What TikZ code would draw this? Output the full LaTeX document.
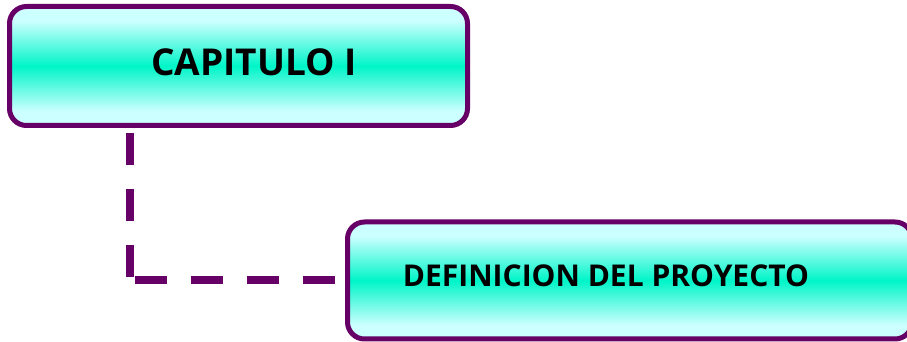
\documentclass[tikz,border=0pt]{standalone}
\usepackage{fontspec}
\setmainfont{Open Sans}
\usepackage{tikz}
\definecolor{edgepurple}{HTML}{660066}
\definecolor{topcyan}{HTML}{CCFFFF}
\definecolor{midaqua}{HTML}{00F5C8}
\pgfdeclareverticalshading{glassy}{100bp}{color(0bp)=(topcyan); color(31bp)=(topcyan); color(50bp)=(midaqua); color(69bp)=(topcyan); color(100bp)=(topcyan)}
\tikzstyle{chapbox}=[rectangle, rounded corners=17pt, draw=edgepurple, line width=5pt, shading=glassy]
\tikzstyle{chaptext}=[inner sep=0pt, font=\bfseries]
\tikzstyle{link}=[draw=edgepurple, line width=8pt, dash pattern=on 32pt off 24pt, dash phase=51pt]

\begin{document}
\begin{tikzpicture}[x=1pt, y=1pt]
		   \clip (0, 0) rectangle (907, 342);
		   \begin{scope}
			   \node (cap) at (238.5, 276)[chapbox, minimum width=458pt, minimum height=119pt] {};
			   \node (def) at (629.75, 61.5)[chapbox, minimum width=564.5pt, minimum height=117pt] {};
			   \node (captext) at (254, 280)[chaptext, font=\fontsize{37}{38}\bfseries\selectfont] {CAPITULO I};
			   \node (deftext) at (606, 66)[chaptext, font=\fontsize{30}{31}\bfseries\selectfont] {DEFINICION DEL PROYECTO};
			   \coordinate (turn) at ([xshift=122.5pt]cap.south west |- def.west);
		   \end{scope}
		   \begin{scope}
			   \path [link] (cap.south -| turn) -- (turn);
			   \path [link] (turn) -- (def.west);
		   \end{scope}
	   \end{tikzpicture}
\end{document}
